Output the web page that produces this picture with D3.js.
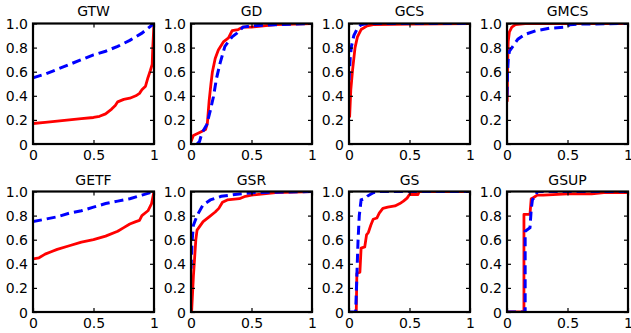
<!DOCTYPE html>
<html>
<head>
<meta charset="utf-8">
<script src="https://cdn.jsdelivr.net/npm/d3@7"></script>
<style>
  body { margin: 0; background: #fff; }
  text { font-family: "DejaVu Sans", sans-serif; font-size: 14px; fill: #000; }
</style>
</head>
<body>
<div id="my_dataviz"></div>
<script>
var titles = ["GTW", "GD", "GCS", "GMCS", "GETF", "GSR", "GS", "GSUP"];
var yTicks = [0, 0.2, 0.4, 0.6, 0.8, 1.0];
var xTicks = [0, 0.5, 1];

// red solid series, one per panel
var gtwRed = [[0,0.17],[0.1,0.18],[0.2,0.19],[0.3,0.2],[0.4,0.21],[0.5,0.22],[0.55,0.23],[0.6,0.25],[0.65,0.29],[0.68,0.32],[0.7,0.35],[0.75,0.37],[0.8,0.38],[0.85,0.4],[0.88,0.42],[0.9,0.45],[0.93,0.48],[0.95,0.55],[0.97,0.61],[0.985,0.66],[0.99,0.8],[1,1]];
var gdRed = [[0,0.02],[0.02,0.07],[0.08,0.1],[0.12,0.12],[0.135,0.17],[0.15,0.36],[0.165,0.5],[0.177,0.6],[0.2,0.71],[0.226,0.78],[0.27,0.85],[0.31,0.88],[0.34,0.94],[0.39,0.95],[0.43,0.97],[0.5,0.97],[0.7,0.99],[1,1]];
var gcsRed = [[0.005,0.22],[0.015,0.45],[0.03,0.62],[0.05,0.8],[0.07,0.89],[0.1,0.95],[0.15,0.98],[0.2,0.99],[0.5,0.995],[1,1]];
var gmcsRed = [[0.002,0.35],[0.005,0.65],[0.01,0.85],[0.02,0.93],[0.04,0.97],[0.07,0.99],[0.15,1],[1,1]];
var getfRed = [[0,0.44],[0.05,0.45],[0.1,0.48],[0.15,0.5],[0.2,0.52],[0.3,0.55],[0.4,0.58],[0.5,0.6],[0.6,0.63],[0.7,0.67],[0.75,0.7],[0.8,0.73],[0.85,0.75],[0.88,0.76],[0.9,0.8],[0.95,0.84],[0.98,0.9],[1,1]];
var gsrRed = [[0.005,0],[0.02,0.3],[0.04,0.6],[0.05,0.68],[0.1,0.75],[0.15,0.79],[0.2,0.83],[0.23,0.86],[0.26,0.91],[0.3,0.93],[0.4,0.94],[0.45,0.96],[0.5,0.97],[0.6,0.98],[0.7,0.99],[1,1]];
var gsRed = [[0.06,0],[0.065,0.32],[0.09,0.33],[0.1,0.53],[0.13,0.54],[0.145,0.64],[0.16,0.66],[0.18,0.72],[0.2,0.77],[0.23,0.78],[0.25,0.82],[0.28,0.86],[0.32,0.87],[0.38,0.88],[0.42,0.9],[0.45,0.92],[0.48,0.945],[0.5,0.975],[0.57,0.975],[0.58,1],[1,1]];
var gsupRed = [[0,0],[0.14,0],[0.14,0.81],[0.19,0.81],[0.2,0.94],[0.22,0.95],[0.25,0.97],[0.3,0.97],[0.5,0.98],[0.7,0.98],[0.8,0.99],[1,0.99]];

// blue dashed series, one per panel
var gtwBlue = [[0,0.55],[0.1,0.58],[0.2,0.62],[0.3,0.66],[0.4,0.7],[0.5,0.74],[0.6,0.77],[0.7,0.81],[0.8,0.86],[0.9,0.92],[0.95,0.96],[1,1]];
var gdBlue = [[0.05,0],[0.07,0.02],[0.09,0.09],[0.13,0.16],[0.16,0.28],[0.185,0.39],[0.21,0.54],[0.24,0.67],[0.28,0.81],[0.34,0.89],[0.38,0.92],[0.43,0.97],[0.5,0.98],[0.7,0.99],[1,1]];
var gcsBlue = [[0,0.53],[0.01,0.71],[0.02,0.81],[0.04,0.9],[0.07,0.96],[0.1,0.99],[0.15,1],[1,1]];
var gmcsBlue = [[0,0.4],[0.005,0.6],[0.01,0.7],[0.02,0.77],[0.055,0.82],[0.09,0.87],[0.15,0.91],[0.24,0.94],[0.35,0.96],[0.49,0.97],[0.52,0.99],[0.6,0.995],[1,1]];
var getfBlue = [[0,0.75],[0.1,0.77],[0.2,0.79],[0.3,0.82],[0.4,0.84],[0.5,0.87],[0.6,0.9],[0.7,0.92],[0.8,0.94],[0.9,0.97],[1,1]];
var gsrBlue = [[0,0.36],[0.01,0.6],[0.02,0.72],[0.05,0.8],[0.1,0.89],[0.16,0.93],[0.25,0.96],[0.4,0.98],[0.5,0.99],[1,1]];
var gsBlue = [[0,0],[0.055,0],[0.065,0.3],[0.075,0.6],[0.085,0.8],[0.1,0.93],[0.13,0.94],[0.15,0.96],[0.2,0.99],[0.25,1],[1,1]];
var gsupBlue = [[0,0],[0.15,0],[0.15,0.67],[0.19,0.7],[0.2,0.85],[0.21,0.93],[0.24,0.97],[0.25,1],[1,1]];

var redSeries = [gtwRed, gdRed, gcsRed, gmcsRed, getfRed, gsrRed, gsRed, gsupRed];
var blueSeries = [gtwBlue, gdBlue, gcsBlue, gmcsBlue, getfBlue, gsrBlue, gsBlue, gsupBlue];

var width = 631, height = 333;
var pw = 121, ph = 120.5;
var lefts = [33, 191, 349, 507];
var tops = [23.5, 191.5];

var svg = d3.select("#my_dataviz")
  .append("svg")
    .attr("width", width)
    .attr("height", height);

titles.forEach(function(title, i) {
  var col = i % 4, row = Math.floor(i / 4);
  var x = d3.scaleLinear().domain([0, 1]).range([0, pw]);
  var y = d3.scaleLinear().domain([0, 1]).range([ph, 0]);

  var g = svg.append("g")
    .attr("transform", "translate(" + lefts[col] + "," + tops[row] + ")");

  g.append("clipPath")
    .attr("id", "clip" + i)
    .append("rect")
      .attr("width", pw)
      .attr("height", ph);

  var line = d3.line()
    .x(function(d) { return x(d[0]); })
    .y(function(d) { return y(d[1]); });

  var plot = g.append("g").attr("clip-path", "url(#clip" + i + ")");

  plot.append("path")
    .datum(redSeries[i])
    .attr("d", line)
    .style("fill", "none")
    .style("stroke", "#ff0000")
    .style("stroke-width", 2.8)
    .style("stroke-linejoin", "round");

  plot.append("path")
    .datum(blueSeries[i])
    .attr("d", line)
    .style("fill", "none")
    .style("stroke", "#0000ff")
    .style("stroke-width", 3)
    .style("stroke-dasharray", "9,5");

  // inward ticks on all four sides
  var bottomAx = g.append("g")
    .attr("transform", "translate(0," + ph + ")")
    .call(d3.axisBottom(x).tickValues(xTicks).tickSize(-4).tickFormat(d3.format("")));
  bottomAx.selectAll("text").attr("y", 16).attr("dy", null);

  g.append("g")
    .call(d3.axisTop(x).tickValues(xTicks).tickSize(-4).tickFormat(""));

  var leftAx = g.append("g")
    .call(d3.axisLeft(y).tickValues(yTicks).tickSize(-4)
      .tickFormat(function(d) { return d === 0 ? "0" : d3.format(".1f")(d); }));
  leftAx.selectAll("text").attr("x", -5).attr("dy", "0.36em");

  g.append("g")
    .attr("transform", "translate(" + pw + ",0)")
    .call(d3.axisRight(y).tickValues(yTicks).tickSize(-4).tickFormat(""));

  g.selectAll(".domain").remove();
  g.selectAll(".tick line").attr("stroke", "#000").attr("stroke-width", 1.2);

  g.append("rect")
    .attr("width", pw)
    .attr("height", ph)
    .style("fill", "none")
    .style("stroke", "#000")
    .style("stroke-width", 2.2);

  g.append("text")
    .attr("x", pw / 2)
    .attr("y", row === 0 ? -8 : -6.5)
    .attr("text-anchor", "middle")
    .text(title);
});
</script>
</body>
</html>
